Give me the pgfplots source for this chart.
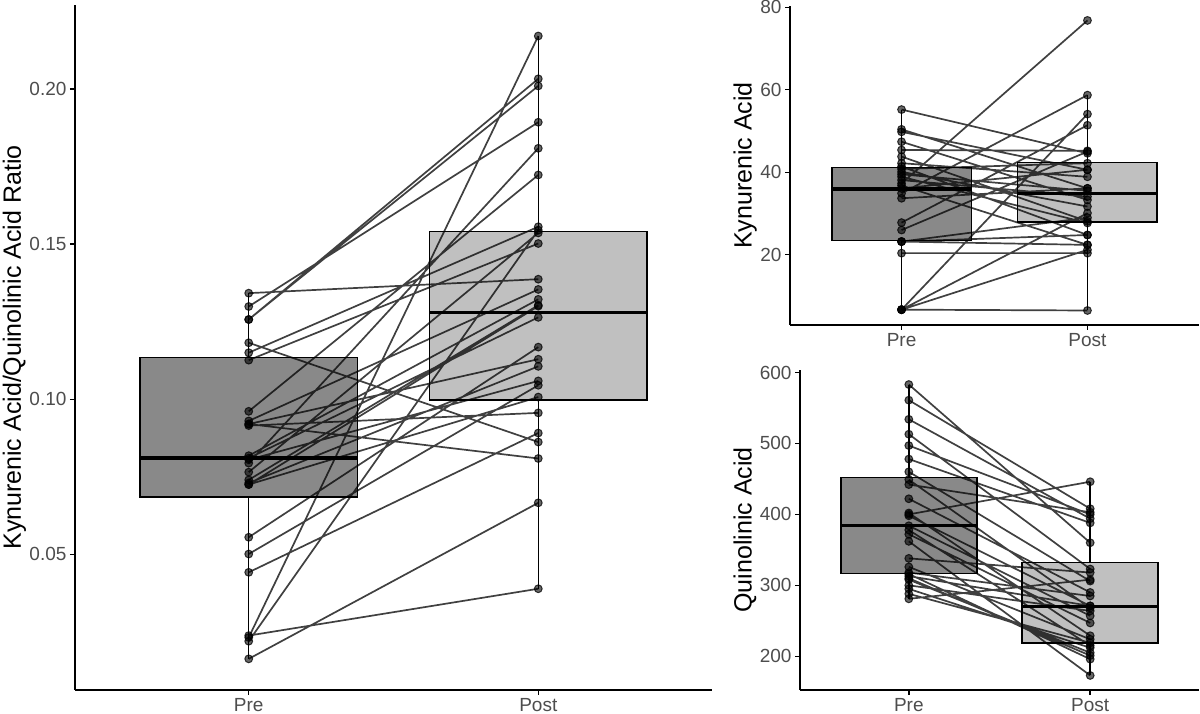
\documentclass[border=0pt]{standalone}
\usepackage{fontspec}
\setmainfont{Liberation Sans}
\usepackage{pgfplots}
\usepackage{pgfplotstable}
\pgfplotsset{compat=1.18}
\definecolor{labgray}{RGB}{77,77,77}
\definecolor{preFill}{RGB}{137,137,137}
\definecolor{postFill}{RGB}{192,192,192}

\pgfplotstableread{
x y
1 0.0163
2 0.0666
nan nan
1 0.0238
2 0.0389
nan nan
1 0.0232
2 0.2171
nan nan
1 0.0220
2 0.1545
nan nan
1 0.1299
2 0.1893
nan nan
1 0.1257
2 0.2033
nan nan
1 0.1257
2 0.2010
nan nan
1 0.0794
2 0.1809
nan nan
1 0.0961
2 0.1723
nan nan
1 0.1182
2 0.0862
nan nan
1 0.0920
2 0.0809
nan nan
1 0.1342
2 0.1387
nan nan
1 0.1150
2 0.1556
nan nan
1 0.1126
2 0.1502
nan nan
1 0.0930
2 0.1354
nan nan
1 0.0920
2 0.1129
nan nan
1 0.0915
2 0.0956
nan nan
1 0.0818
2 0.1322
nan nan
1 0.0810
2 0.1264
nan nan
1 0.0805
2 0.1059
nan nan
1 0.0765
2 0.1536
nan nan
1 0.0740
2 0.1303
nan nan
1 0.0730
2 0.1106
nan nan
1 0.0725
2 0.1300
nan nan
1 0.0725
2 0.1007
nan nan
1 0.0555
2 0.1168
nan nan
1 0.0501
2 0.1045
nan nan
1 0.0442
2 0.0891
}\ratio

\pgfplotstableread{
x y
1 6.7
2 54.1
nan nan
1 6.7
2 30.1
nan nan
1 6.7
2 21.2
nan nan
1 6.7
2 6.5
nan nan
1 37.3
2 76.8
nan nan
1 55.2
2 44.6
nan nan
1 50.4
2 36.1
nan nan
1 49.8
2 40.6
nan nan
1 47.4
2 33.3
nan nan
1 45.4
2 45.2
nan nan
1 43.8
2 28.1
nan nan
1 42.2
2 38.9
nan nan
1 41.4
2 24.8
nan nan
1 40.8
2 42.2
nan nan
1 40.1
2 31.7
nan nan
1 39.5
2 35.5
nan nan
1 38.9
2 27.7
nan nan
1 38.1
2 34.1
nan nan
1 36.8
2 22.4
nan nan
1 36.1
2 40.6
nan nan
1 34.9
2 58.7
nan nan
1 33.7
2 36.1
nan nan
1 27.8
2 51.4
nan nan
1 26.0
2 45.0
nan nan
1 23.2
2 24.8
nan nan
1 23.2
2 22.4
nan nan
1 23.2
2 29.0
nan nan
1 20.4
2 20.4
}\kyn

\pgfplotstableread{
x y
1 583
2 360
nan nan
1 561
2 408
nan nan
1 534
2 394
nan nan
1 513
2 323
nan nan
1 497
2 400
nan nan
1 478
2 388
nan nan
1 460
2 306
nan nan
1 449
2 268
nan nan
1 442
2 403
nan nan
1 422
2 290
nan nan
1 402
2 229
nan nan
1 400
2 446
nan nan
1 398
2 271
nan nan
1 384
2 257
nan nan
1 378
2 215
nan nan
1 372
2 247
nan nan
1 362
2 173
nan nan
1 338
2 318
nan nan
1 326
2 224
nan nan
1 318
2 285
nan nan
1 316
2 196
nan nan
1 313
2 271
nan nan
1 310
2 201
nan nan
1 308
2 205
nan nan
1 300
2 264
nan nan
1 295
2 212
nan nan
1 288
2 219
nan nan
1 281
2 308
}\quin

\pgfplotsset{
  paired/.style={
    scale only axis,
    axis x line*=bottom, axis y line*=left,
    axis line style={line width=1.6pt, black, -},
    xmin=0.4, xmax=2.6,
    xtick={1,2}, xticklabels={Pre,Post},
    tick align=outside,
    major tick length=5pt,
    tick style={line width=1.4pt, black},
    ticklabel style={font=\fontsize{19}{21}\selectfont, text=labgray},
    /pgf/number format/assume math mode=true,
    every axis y label/.style={at={(ticklabel cs:0.5)}, rotate=90, anchor=south, inner sep=0pt,
      font=\fontsize{25}{27}\selectfont},
    clip=false,
    unbounded coords=jump,
  },
  segs/.style={black, opacity=0.75, line width=1.7pt},
  pts/.style={only marks, mark=*, mark size=3.9pt,
    mark options={fill=black, fill opacity=0.6, draw=black, draw opacity=0.75, line width=1pt}},
  whisk/.style={black, line width=1.5pt, mark=none},
  bx/.style={draw=black, line width=1.5pt, mark=none},
  med/.style={black, line width=3.5pt, mark=none},
}

\begin{document}
\begin{tikzpicture}
\path[use as bounding box] (0,0) rectangle (1200pt,714pt);

% Left panel
\begin{axis}[paired,
  at={(75pt,24pt)}, anchor=south west,
  width=637pt, height=685pt,
  ymin=0.00626, ymax=0.2271,
  ytick={0.05,0.10,0.15,0.20},
  yticklabels={0.05,0.10,0.15,0.20},
  ylabel={Kynurenic Acid/Quinolinic Acid Ratio},
]
\addplot[whisk] coordinates {(1,0.0163) (1,0.1342)};
\addplot[whisk] coordinates {(2,0.0389) (2,0.2171)};
\addplot[bx, fill=preFill] coordinates {(0.625,0.0684) (1.375,0.0684) (1.375,0.1135) (0.625,0.1135)} -- cycle;
\addplot[bx, fill=postFill] coordinates {(1.625,0.0997) (2.375,0.0997) (2.375,0.1540) (1.625,0.1540)} -- cycle;
\addplot[med] coordinates {(0.625,0.0810) (1.375,0.0810)};
\addplot[med] coordinates {(1.625,0.1280) (2.375,0.1280)};
\addplot[segs] table {\ratio};
\addplot[pts] table {\ratio};
\end{axis}

% Top right panel
\begin{axis}[paired,
  at={(790pt,389pt)}, anchor=south west,
  width=409pt, height=319pt,
  ymin=2.985, ymax=80.3,
  ytick={20,40,60,80},
  ylabel={Kynurenic Acid},
]
\addplot[whisk] coordinates {(1,6.7) (1,55.2)};
\addplot[whisk] coordinates {(2,6.5) (2,58.7)};
\addplot[bx, fill=preFill] coordinates {(0.625,23.5) (1.375,23.5) (1.375,41.2) (0.625,41.2)} -- cycle;
\addplot[bx, fill=postFill] coordinates {(1.625,27.9) (2.375,27.9) (2.375,42.4) (1.625,42.4)} -- cycle;
\addplot[med] coordinates {(0.625,35.9) (1.375,35.9)};
\addplot[med] coordinates {(1.625,34.9) (2.375,34.9)};
\addplot[segs] table {\kyn};
\addplot[pts] table {\kyn};
\end{axis}

% Bottom right panel
\begin{axis}[paired,
  at={(800pt,24pt)}, anchor=south west,
  width=399pt, height=320pt,
  ymin=152.5, ymax=603.5,
  ytick={200,300,400,500,600},
  ylabel={Quinolinic Acid},
]
\addplot[whisk] coordinates {(1,281) (1,582)};
\addplot[whisk] coordinates {(2,173) (2,446)};
\addplot[bx, fill=preFill] coordinates {(0.625,317) (1.375,317) (1.375,452) (0.625,452)} -- cycle;
\addplot[bx, fill=postFill] coordinates {(1.625,218.5) (2.375,218.5) (2.375,332) (1.625,332)} -- cycle;
\addplot[med] coordinates {(0.625,384) (1.375,384)};
\addplot[med] coordinates {(1.625,270) (2.375,270)};
\addplot[segs] table {\quin};
\addplot[pts] table {\quin};
\end{axis}
\end{tikzpicture}
\end{document}
